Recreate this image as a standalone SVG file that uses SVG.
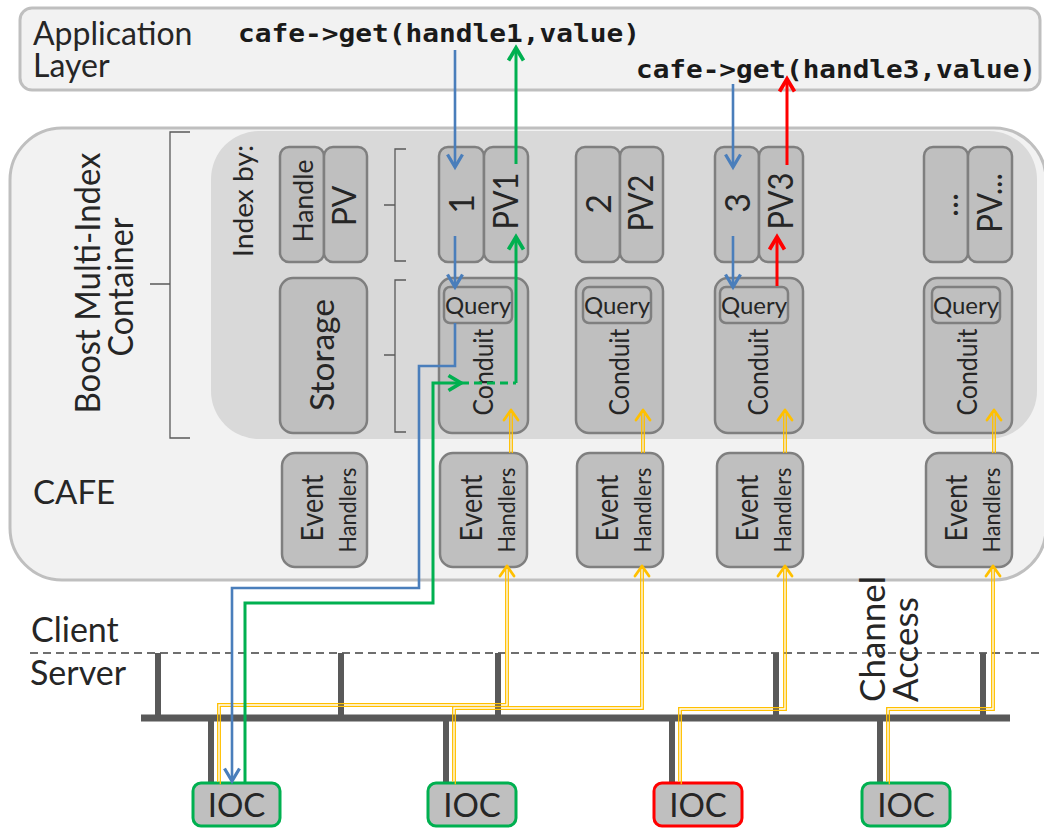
<svg xmlns="http://www.w3.org/2000/svg" xmlns:xlink="http://www.w3.org/1999/xlink" width="1044" height="828" viewBox="0 0 1044 828">
  <style>
    .lbl { font-family: Lato, "Open Sans", sans-serif; fill: #262626; }
    .code { font-family: "DejaVu Sans Mono", "Liberation Mono", monospace; font-weight: bold; fill: #1a1a1a; font-size: 25px; }
    .box { fill: #bfbfbf; stroke: #7f7f7f; stroke-width: 2.5; }
    .ioc { fill: #bfbfbf; stroke-width: 3; }
    .bus { stroke: #595959; stroke-width: 7; fill: none; }
    .stub { stroke: #595959; stroke-width: 6; fill: none; }
    .brace { stroke: #595959; stroke-width: 1.3; fill: none; }
    .blue { stroke: #4a7ebb; stroke-width: 2.6; fill: none; }
    .green { stroke: #00b050; stroke-width: 3; fill: none; }
    .red { stroke: #ff0000; stroke-width: 3; fill: none; }
    .yel { stroke: #ffc000; stroke-width: 1.3; fill: none; }
    .ytip { stroke: #ffc000; stroke-width: 2.8; fill: none; stroke-linecap: round; stroke-linejoin: round; }
  </style>
  <defs>
    <marker id="ah-blue" markerUnits="userSpaceOnUse" markerWidth="20" markerHeight="20" viewBox="-12 -8 14 16" refX="0" refY="0" orient="auto">
      <path d="M-10,-6 L0,0 L-10,6" fill="none" stroke="#4a7ebb" stroke-width="2.6"/>
    </marker>
    <marker id="ah-green" markerUnits="userSpaceOnUse" markerWidth="20" markerHeight="20" viewBox="-12 -8 14 16" refX="0" refY="0" orient="auto">
      <path d="M-10,-6 L0,0 L-10,6" fill="none" stroke="#00b050" stroke-width="3"/>
    </marker>
    <marker id="ah-red" markerUnits="userSpaceOnUse" markerWidth="20" markerHeight="20" viewBox="-12 -8 14 16" refX="0" refY="0" orient="auto">
      <path d="M-10,-6 L0,0 L-10,6" fill="none" stroke="#ff0000" stroke-width="3"/>
    </marker>
    <!-- channel access monitor routes (drawn as double lines) -->
    <path id="ca1" d="M219,783 V705 H507 V568"/>
    <path id="ca2" d="M454,783 V708 H642 V568"/>
    <path id="ca3" d="M680,783 V709 H785 V568"/>
    <path id="ca4" d="M888,783 V709 H993 V568"/>
    <path id="up1" d="M511,453 V412"/>
    <path id="up2" d="M643,453 V412"/>
    <path id="up3" d="M785,453 V412"/>
    <path id="up4" d="M994,453 V412"/>
  </defs>

  <rect width="1044" height="828" fill="#ffffff"/>

  <!-- application layer -->
  <g id="app-layer">
    <rect x="20" y="8" width="1020" height="82" rx="12" fill="#f2f2f2" stroke="#bfbfbf" stroke-width="3"/>
    <text class="lbl" x="33" y="45" font-size="32">Application</text>
    <text class="lbl" x="33" y="77" font-size="32">Layer</text>
    <text class="code" x="238" y="42" textLength="402" lengthAdjust="spacingAndGlyphs">cafe-&gt;get(handle1,value)</text>
    <text class="code" x="636" y="78" textLength="400" lengthAdjust="spacingAndGlyphs">cafe-&gt;get(handle3,value)</text>
  </g>

  <!-- CAFE container -->
  <g id="cafe">
    <rect x="10" y="128" width="1036" height="452" rx="52" fill="#f2f2f2" stroke="#bfbfbf" stroke-width="3"/>
    <text class="lbl" x="33" y="504" font-size="33">CAFE</text>
  </g>

  <!-- Boost multi-index container -->
  <g id="boost">
    <rect x="211" y="131" width="826" height="308" rx="48" fill="#d9d9d9"/>
    <path class="brace" d="M190,132 H170 V438 H190 M170,284 H150"/>
    <path class="brace" d="M406,149 H395 V261 H406 M395,205 H384"/>
    <path class="brace" d="M406,280 H395 V432 H406 M395,355 H384"/>
    <text class="lbl" font-size="35" text-anchor="middle" transform="translate(100,283) rotate(-90)" textLength="261" lengthAdjust="spacingAndGlyphs">Boost Multi-Index</text>
    <text class="lbl" font-size="35" text-anchor="middle" transform="translate(133,287) rotate(-90)" textLength="139" lengthAdjust="spacingAndGlyphs">Container</text>
    <text class="lbl" font-size="26" transform="translate(253,257) rotate(-90)" textLength="112" lengthAdjust="spacingAndGlyphs">Index by:</text>
  </g>

  <!-- index header -->
  <g id="idx-handle">
    <rect class="box" x="280" y="147" width="44" height="115" rx="9"/>
    <text class="lbl" font-size="27" text-anchor="middle" transform="translate(313,201) rotate(-90)" textLength="83" lengthAdjust="spacingAndGlyphs">Handle</text>
  </g>
  <g id="idx-pv">
    <rect class="box" x="324" y="147" width="43" height="115" rx="9"/>
    <text class="lbl" font-size="32" text-anchor="middle" transform="translate(356,206) rotate(-90)">PV</text>
  </g>
  <g id="storage">
    <rect class="box" x="280" y="278" width="87" height="155" rx="13"/>
    <text class="lbl" font-size="32" text-anchor="middle" transform="translate(334,355) rotate(-90)" textLength="112" lengthAdjust="spacingAndGlyphs">Storage</text>
  </g>

  <!-- channel 1 -->
  <g id="h1">
    <rect class="box" x="439" y="147" width="45" height="115" rx="9"/>
    <text class="lbl" font-size="34" text-anchor="middle" transform="translate(474,204) rotate(-90)">1</text>
  </g>
  <g id="pv1">
    <rect class="box" x="484" y="147" width="44" height="115" rx="9"/>
    <text class="lbl" font-size="34" text-anchor="middle" transform="translate(518,201) rotate(-90)" textLength="57" lengthAdjust="spacingAndGlyphs">PV1</text>
  </g>
  <g id="conduit1">
    <rect class="box" x="439" y="278" width="89" height="155" rx="13"/>
    <rect class="box" x="444" y="287" width="68" height="36" rx="6"/>
    <text class="lbl" font-size="24" x="478" y="314" text-anchor="middle">Query</text>
    <text class="lbl" font-size="27" text-anchor="middle" transform="translate(493,372) rotate(-90)" textLength="87" lengthAdjust="spacingAndGlyphs">Conduit</text>
  </g>
  <g id="eh1">
    <rect class="box" x="440" y="453" width="87" height="114" rx="13"/>
    <text class="lbl" font-size="30" text-anchor="middle" transform="translate(482,508) rotate(-90)" textLength="67" lengthAdjust="spacingAndGlyphs">Event</text>
    <text class="lbl" font-size="23" text-anchor="middle" transform="translate(515,510) rotate(-90)" textLength="85" lengthAdjust="spacingAndGlyphs">Handlers</text>
  </g>

  <!-- channel 2 -->
  <g id="h2">
    <rect class="box" x="576" y="147" width="44" height="115" rx="9"/>
    <text class="lbl" font-size="34" text-anchor="middle" transform="translate(611,204) rotate(-90)">2</text>
  </g>
  <g id="pv2">
    <rect class="box" x="620" y="147" width="43" height="115" rx="9"/>
    <text class="lbl" font-size="34" text-anchor="middle" transform="translate(653,203) rotate(-90)" textLength="57" lengthAdjust="spacingAndGlyphs">PV2</text>
  </g>
  <g id="conduit2">
    <rect class="box" x="576" y="278" width="87" height="155" rx="13"/>
    <rect class="box" x="583" y="287" width="68" height="36" rx="6"/>
    <text class="lbl" font-size="24" x="617" y="314" text-anchor="middle">Query</text>
    <text class="lbl" font-size="27" text-anchor="middle" transform="translate(629,372) rotate(-90)" textLength="87" lengthAdjust="spacingAndGlyphs">Conduit</text>
  </g>
  <g id="eh2">
    <rect class="box" x="577" y="453" width="86" height="114" rx="13"/>
    <text class="lbl" font-size="30" text-anchor="middle" transform="translate(618,508) rotate(-90)" textLength="67" lengthAdjust="spacingAndGlyphs">Event</text>
    <text class="lbl" font-size="23" text-anchor="middle" transform="translate(651,510) rotate(-90)" textLength="85" lengthAdjust="spacingAndGlyphs">Handlers</text>
  </g>

  <!-- channel 3 -->
  <g id="h3">
    <rect class="box" x="715" y="147" width="44" height="115" rx="9"/>
    <text class="lbl" font-size="34" text-anchor="middle" transform="translate(750,203) rotate(-90)">3</text>
  </g>
  <g id="pv3">
    <rect class="box" x="759" y="147" width="44" height="115" rx="9"/>
    <text class="lbl" font-size="34" text-anchor="middle" transform="translate(793,201) rotate(-90)" textLength="57" lengthAdjust="spacingAndGlyphs">PV3</text>
  </g>
  <g id="conduit3">
    <rect class="box" x="715" y="278" width="88" height="155" rx="13"/>
    <rect class="box" x="720" y="287" width="68" height="36" rx="6"/>
    <text class="lbl" font-size="24" x="754" y="314" text-anchor="middle">Query</text>
    <text class="lbl" font-size="27" text-anchor="middle" transform="translate(768,372) rotate(-90)" textLength="87" lengthAdjust="spacingAndGlyphs">Conduit</text>
  </g>
  <g id="eh3">
    <rect class="box" x="717" y="453" width="86" height="114" rx="13"/>
    <text class="lbl" font-size="30" text-anchor="middle" transform="translate(758,508) rotate(-90)" textLength="67" lengthAdjust="spacingAndGlyphs">Event</text>
    <text class="lbl" font-size="23" text-anchor="middle" transform="translate(791,510) rotate(-90)" textLength="85" lengthAdjust="spacingAndGlyphs">Handlers</text>
  </g>

  <!-- channel n -->
  <g id="hn">
    <rect class="box" x="924" y="147" width="44" height="115" rx="9"/>
    <text class="lbl" font-size="34" text-anchor="middle" transform="translate(958,205) rotate(-90)">...</text>
  </g>
  <g id="pvn">
    <rect class="box" x="968" y="147" width="44" height="115" rx="9"/>
    <text class="lbl" font-size="34" text-anchor="middle" transform="translate(1002,203) rotate(-90)" textLength="60" lengthAdjust="spacingAndGlyphs">PV...</text>
  </g>
  <g id="conduitn">
    <rect class="box" x="924" y="278" width="88" height="155" rx="13"/>
    <rect class="box" x="932" y="287" width="68" height="36" rx="6"/>
    <text class="lbl" font-size="24" x="966" y="314" text-anchor="middle">Query</text>
    <text class="lbl" font-size="27" text-anchor="middle" transform="translate(977,372) rotate(-90)" textLength="87" lengthAdjust="spacingAndGlyphs">Conduit</text>
  </g>
  <g id="ehn">
    <rect class="box" x="926" y="453" width="86" height="114" rx="13"/>
    <text class="lbl" font-size="30" text-anchor="middle" transform="translate(967,508) rotate(-90)" textLength="67" lengthAdjust="spacingAndGlyphs">Event</text>
    <text class="lbl" font-size="23" text-anchor="middle" transform="translate(1000,510) rotate(-90)" textLength="85" lengthAdjust="spacingAndGlyphs">Handlers</text>
  </g>

  <!-- spare event handlers -->
  <g id="eh0">
    <rect class="box" x="282" y="453" width="85" height="114" rx="13"/>
    <text class="lbl" font-size="30" text-anchor="middle" transform="translate(323,508) rotate(-90)" textLength="67" lengthAdjust="spacingAndGlyphs">Event</text>
    <text class="lbl" font-size="23" text-anchor="middle" transform="translate(356,510) rotate(-90)" textLength="85" lengthAdjust="spacingAndGlyphs">Handlers</text>
  </g>

  <!-- network: client/server split and channel access bus -->
  <g id="network">
    <text class="lbl" x="31" y="642" font-size="34">Client</text>
    <text class="lbl" x="30" y="685" font-size="34">Server</text>
    <line x1="30" y1="653" x2="1044" y2="653" stroke="#404040" stroke-width="1.3" stroke-dasharray="8,5"/>
    <path class="bus" d="M141,718 H1010"/>
    <path class="stub" d="M158,653 V718 M341,653 V718 M498,653 V718 M776,653 V718 M983,653 V718"/>
    <path class="stub" d="M211,718 V783 M446,718 V783 M672,718 V783 M880,718 V783"/>
    <text class="lbl" font-size="35" transform="translate(885,702) rotate(-90)">Channel</text>
    <text class="lbl" font-size="35" transform="translate(918,702) rotate(-90)">Access</text>
  </g>

  <g id="ioc1">
    <rect class="ioc" x="193" y="783" width="87" height="43" rx="8" stroke="#00b050"/>
    <text class="lbl" font-size="33" x="236.5" y="817" text-anchor="middle">IOC</text>
  </g>
  <g id="ioc2">
    <rect class="ioc" x="428" y="783" width="88" height="43" rx="8" stroke="#00b050"/>
    <text class="lbl" font-size="33" x="472" y="817" text-anchor="middle">IOC</text>
  </g>
  <g id="ioc3">
    <rect class="ioc" x="654" y="783" width="88" height="43" rx="8" stroke="#ff0000"/>
    <text class="lbl" font-size="33" x="698" y="817" text-anchor="middle">IOC</text>
  </g>
  <g id="ioc4">
    <rect class="ioc" x="862" y="783" width="88" height="43" rx="8" stroke="#00b050"/>
    <text class="lbl" font-size="33" x="906" y="817" text-anchor="middle">IOC</text>
  </g>

  <!-- connectors -->
  <g id="connectors">
    <!-- monitor callbacks: IOC to event handlers to conduit -->
    <g class="yel">
      <use xlink:href="#ca1" transform="translate(-1.3,-1.3)"/><use xlink:href="#ca1" transform="translate(1.3,1.3)"/>
      <use xlink:href="#ca2" transform="translate(-1.3,-1.3)"/><use xlink:href="#ca2" transform="translate(1.3,1.3)"/>
      <use xlink:href="#ca3" transform="translate(-1.3,-1.3)"/><use xlink:href="#ca3" transform="translate(1.3,1.3)"/>
      <use xlink:href="#ca4" transform="translate(-1.3,-1.3)"/><use xlink:href="#ca4" transform="translate(1.3,1.3)"/>
      <use xlink:href="#up1" transform="translate(-1.3,0)"/><use xlink:href="#up1" transform="translate(1.3,0)"/>
      <use xlink:href="#up2" transform="translate(-1.3,0)"/><use xlink:href="#up2" transform="translate(1.3,0)"/>
      <use xlink:href="#up3" transform="translate(-1.3,0)"/><use xlink:href="#up3" transform="translate(1.3,0)"/>
      <use xlink:href="#up4" transform="translate(-1.3,0)"/><use xlink:href="#up4" transform="translate(1.3,0)"/>
    </g>
    <path class="ytip" d="M500,576 L507,566 L514,576 M635,576 L642,566 L649,576 M778,576 L785,566 L792,576 M986,576 L993,566 L1000,576"/>
    <path class="ytip" d="M504,420 L511,410 L518,420 M636,420 L643,410 L650,420 M778,420 L785,410 L792,420 M987,420 L994,410 L1001,420"/>

    <!-- get(handle1): lookup and IOC request -->
    <path class="blue" d="M455,50 V167" marker-end="url(#ah-blue)"/>
    <path class="blue" d="M455,236 V287" marker-end="url(#ah-blue)"/>
    <path class="blue" d="M455,323 V366 H419 V588 H232 V781" marker-end="url(#ah-blue)"/>
    <path class="green" d="M245,783 V603 H433 V383 H461" marker-end="url(#ah-green)"/>
    <path class="green" d="M461,383 H516" stroke-dasharray="8,5"/>
    <path class="green" d="M516,383 V237" marker-end="url(#ah-green)"/>
    <path class="green" d="M516,164 V48" marker-end="url(#ah-green)"/>

    <!-- get(handle3): value served from cache -->
    <path class="blue" d="M733,84 V167" marker-end="url(#ah-blue)"/>
    <path class="blue" d="M733,236 V287" marker-end="url(#ah-blue)"/>
    <path class="red" d="M777,286 V237" marker-end="url(#ah-red)"/>
    <path class="red" d="M787,165 V79" marker-end="url(#ah-red)"/>
  </g>
</svg>
